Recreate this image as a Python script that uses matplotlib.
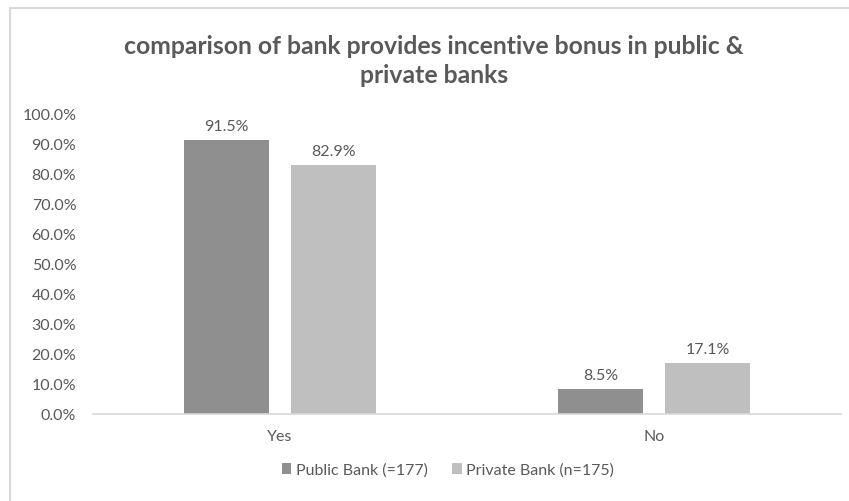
import matplotlib.pyplot as plt
import numpy as np
from matplotlib.patches import Rectangle

categories = ["Yes", "No"]
series_names = ["Public Bank (=177)", "Private Bank (n=175)"]
public_pct = [91.5, 8.5]
private_pct = [82.9, 17.1]
bar_colors = ["#8f8f8f", "#bfbfbf"]

plt.rcParams["font.family"] = ["Lato", "DejaVu Sans"]
text_gray = "#595959"

fig = plt.figure(figsize=(8.49, 5.02), dpi=100)
ax = fig.add_axes([93 / 849, 1 - 415 / 502, 748 / 849, 300 / 502])

# chart frame, Excel-style
fig.patches.append(Rectangle((10 / 849, -0.1), 1.2, 1 - 9 / 502 + 0.1,
                             transform=fig.transFigure, fill=False,
                             edgecolor="#d9d9d9", linewidth=1.5))

x = np.arange(len(categories))
width = 0.225
offset = (width + 0.061) / 2
for vals, name, color, shift in [(public_pct, series_names[0], bar_colors[0], -offset),
                                 (private_pct, series_names[1], bar_colors[1], offset)]:
    bars = ax.bar(x + shift, vals, width, color=color, label=name, zorder=2)
    for b, v in zip(bars, vals):
        ax.text(b.get_x() + b.get_width() / 2, v + 2.3, f"{v:.1f}%",
                ha="center", va="bottom", fontsize=11.5, color=text_gray)

ax.set_xlim(-0.5, 1.5)
ax.set_ylim(0, 100)
ax.set_yticks(np.arange(0, 101, 10))
ax.set_yticklabels([f"{t:.1f}%" for t in np.arange(0, 101, 10)])
ax.set_xticks(x)
ax.set_xticklabels(categories)
ax.tick_params(axis="both", length=0, labelsize=11.5, colors=text_gray)
ax.tick_params(axis="y", pad=12)
ax.tick_params(axis="x", pad=11)
for side in ["top", "right", "left"]:
    ax.spines[side].set_visible(False)
ax.spines["bottom"].set_color("#d9d9d9")
ax.spines["bottom"].set_linewidth(1.2)

fig.text(434 / 849, 1 - 61 / 502,
         "comparison of bank provides incentive bonus in public &\nprivate banks",
         ha="center", va="center", fontsize=17.8, fontweight="bold",
         color=text_gray, linespacing=1.3)

fig.legend(loc="center", bbox_to_anchor=(448 / 849, 1 - 471 / 502), ncol=2,
           frameon=False, fontsize=11.5, labelcolor=text_gray,
           handlelength=0.6, handleheight=0.6, handletextpad=0.3,
           columnspacing=1.5)

fig.savefig("out.png", dpi=100)
